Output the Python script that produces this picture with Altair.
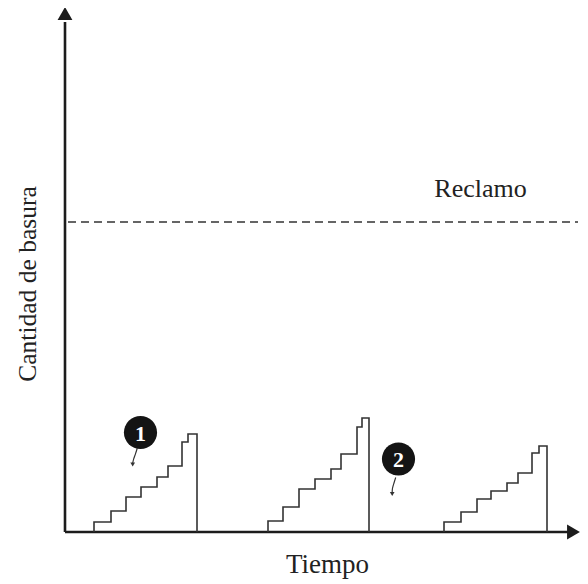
import altair as alt
import pandas as pd

# ---- data (time units on x, garbage amount on y) ----
s1_x = [2.9, 4.6, 6.1, 7.6, 9.2, 10.3, 11.7, 12.3, 13.2]
s1_y = [1.0, 2.1, 3.5, 4.5, 5.5, 6.6, 9.0, 9.8]
s2_x = [20.3, 21.8, 23.4, 25.0, 26.6, 27.6, 29.2, 29.7, 30.4]
s2_y = [1.1, 2.5, 4.3, 5.3, 6.3, 7.8, 10.5, 11.4]
s3_x = [37.9, 39.6, 41.2, 42.6, 44.2, 45.3, 46.7, 47.4, 48.2]
s3_y = [1.0, 2.0, 3.3, 4.1, 4.9, 5.9, 7.9, 8.6]

reclamo_level = 31.0
reclamo_span = [0.3, 51.3]

badge_labels = ["1", "2"]
badge_x = [7.55, 33.35]
badge_y = [9.95, 7.3]

ptr1_x = [7.23, 7.05, 6.85, 6.77]
ptr1_y = [8.4, 7.8, 7.3, 6.9]
ptr2_x = [33.07, 32.9, 32.72, 32.72]
ptr2_y = [5.45, 4.9, 4.35, 3.95]

X_MAX, Y_MAX = 51.5, 52.4
x_axis_end = 50.4
y_axis_end = 51.0

xs = alt.Scale(domain=[0, X_MAX], nice=False, zero=False)
ys = alt.Scale(domain=[0, Y_MAX], nice=False, zero=False)
FONT = "Liberation Serif"
INK = "#1c1c1c"


def X(f):
    return alt.X(f, type="quantitative", scale=xs, axis=None)


def Y(f):
    return alt.Y(f, type="quantitative", scale=ys, axis=None)


def stair(sx, sy, sid):
    rows = [(sx[0], 0.0)]
    for i, lvl in enumerate(sy):
        rows.append((sx[i], lvl))
        rows.append((sx[i + 1], lvl))
    rows.append((sx[-1], 0.0))
    return [{"x": a, "y": b, "o": k, "s": sid} for k, (a, b) in enumerate(rows)]


stairs = pd.DataFrame(stair(s1_x, s1_y, "a") + stair(s2_x, s2_y, "b") + stair(s3_x, s3_y, "c"))

ptrs = pd.DataFrame(
    [{"x": a, "y": b, "o": k, "s": "p1"} for k, (a, b) in enumerate(zip(ptr1_x, ptr1_y))]
    + [{"x": a, "y": b, "o": k, "s": "p2"} for k, (a, b) in enumerate(zip(ptr2_x, ptr2_y))]
)
ptr_heads = pd.DataFrame({"x": [ptr1_x[-1], ptr2_x[-1]], "y": [ptr1_y[-1] - 0.15, ptr2_y[-1] - 0.15]})

axes_df = pd.DataFrame({"x": [0, 0], "y": [0, 0], "x2": [0, x_axis_end], "y2": [y_axis_end, 0]})
arrow_up = pd.DataFrame({"x": [0], "y": [51.85]})
arrow_right = pd.DataFrame({"x": [50.85], "y": [0]})
dash_df = pd.DataFrame({"x": [reclamo_span[0]], "x2": [reclamo_span[1]], "y": [reclamo_level]})
badges = pd.DataFrame({"x": badge_x, "y": badge_y, "t": badge_labels})
texts = pd.DataFrame({"x": [41.55], "y": [33.5], "t": ["Reclamo"]})
xtitle = pd.DataFrame({"x": [26.25], "y": [-4.13], "t": ["Tiempo"]})
ytitle = pd.DataFrame({"x": [-3.75], "y": [24.8], "t": ["Cantidad de basura"]})

axes = alt.Chart(axes_df).mark_rule(color=INK, strokeWidth=2.6).encode(
    x=X("x"), y=Y("y"), x2="x2", y2="y2")
up = alt.Chart(arrow_up).mark_point(shape="triangle-up", filled=True, size=220, color=INK, opacity=1).encode(
    x=X("x"), y=Y("y"))
right = alt.Chart(arrow_right).mark_point(shape="triangle-right", filled=True, size=220, color=INK, opacity=1).encode(
    x=X("x"), y=Y("y"))
dash = alt.Chart(dash_df).mark_rule(color="#333", strokeWidth=1.3, strokeDash=[8, 5]).encode(
    x=X("x"), x2="x2", y=Y("y"))
steps = alt.Chart(stairs).mark_line(color="#333", strokeWidth=1.6).encode(
    x=X("x"), y=Y("y"), order="o:Q", detail="s:N")
circles = alt.Chart(badges).mark_circle(size=1100, color="#141414", opacity=1).encode(
    x=X("x"), y=Y("y"))
nums = alt.Chart(badges).mark_text(font=FONT, fontWeight="bold", fontSize=22, color="white",
                                   baseline="middle", dy=1).encode(x=X("x"), y=Y("y"), text="t:N")
pointers = alt.Chart(ptrs).mark_line(color="#333", strokeWidth=1.2, interpolate="basis").encode(
    x=X("x"), y=Y("y"), order="o:Q", detail="s:N")
heads = alt.Chart(ptr_heads).mark_point(shape="triangle-down", filled=True, size=22, color="#333", opacity=1).encode(
    x=X("x"), y=Y("y"))
rec = alt.Chart(texts).mark_text(font=FONT, fontSize=26, color="#222", baseline="alphabetic").encode(
    x=X("x"), y=Y("y"), text="t:N")
xt = alt.Chart(xtitle).mark_text(font=FONT, fontSize=27, color="#222", baseline="alphabetic").encode(
    x=X("x"), y=Y("y"), text="t:N")
yt = alt.Chart(ytitle).mark_text(font=FONT, fontSize=25.5, color="#222", baseline="middle", angle=270).encode(
    x=X("x"), y=Y("y"), text="t:N")

chart = alt.layer(axes, up, right, dash, steps, circles, nums, pointers, heads, rec, xt, yt).properties(
    width=515, height=524,
    padding={"left": 57, "top": 0, "right": 0, "bottom": 48},
    autosize=alt.AutoSizeParams(type="none"),
    background="white",
).configure_view(stroke=None)

chart.save("out.html", embed_options={"renderer": "svg", "actions": False})
